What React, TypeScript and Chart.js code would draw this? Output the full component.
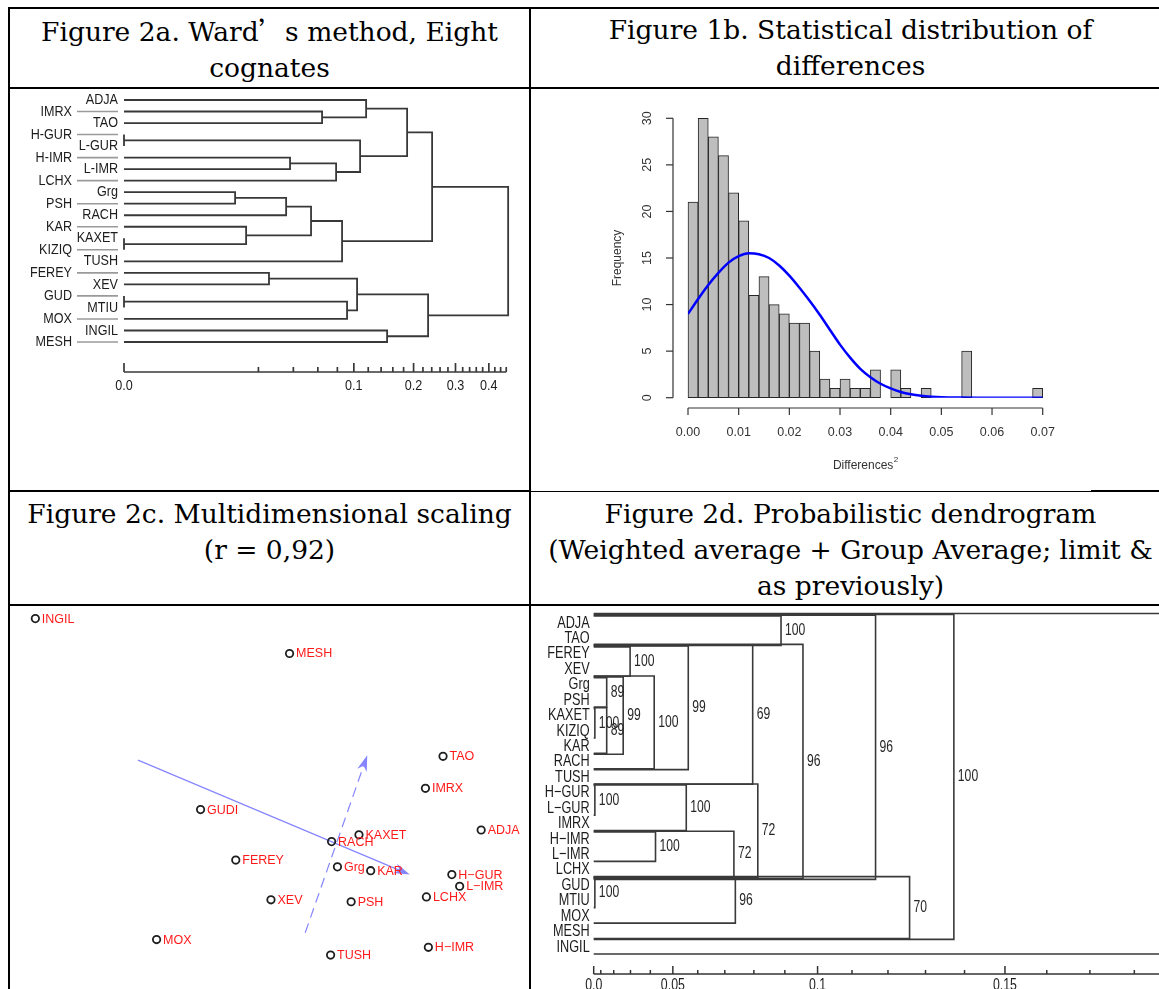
import React, { useEffect, useRef } from "react";
import { Chart, registerables, LinearScale } from "chart.js";

Chart.register(...registerables);

// ---------------- custom power scales (R plots use transformed height axes) ----------------
class CubeRootScale extends LinearScale {
  static id = "cuberoot";
  static defaults = {};
  tf(v: number) { return Math.cbrt(v); }
  inv(t: number) { return t * t * t; }
  getPixelForValue(value: any) {
    if (value === null || value === undefined || Number.isNaN(value)) return NaN;
    const a = this.tf(this.min), b = this.tf(this.max);
    return this.getPixelForDecimal((this.tf(value) - a) / (b - a));
  }
  getValueForPixel(pixel: number) {
    const a = this.tf(this.min), b = this.tf(this.max);
    return this.inv(a + this.getDecimalForPixel(pixel) * (b - a));
  }
}
class Pow15Scale extends LinearScale {
  static id = "pow15";
  static defaults = {};
  tf(v: number) { return Math.pow(Math.max(v, 0), 1.5); }
  inv(t: number) { return Math.pow(Math.max(t, 0), 2 / 3); }
  getPixelForValue(value: any) {
    if (value === null || value === undefined || Number.isNaN(value)) return NaN;
    const a = this.tf(this.min), b = this.tf(this.max);
    return this.getPixelForDecimal((this.tf(value) - a) / (b - a));
  }
  getValueForPixel(pixel: number) {
    const a = this.tf(this.min), b = this.tf(this.max);
    return this.inv(a + this.getDecimalForPixel(pixel) * (b - a));
  }
}
Chart.register(CubeRootScale as any, Pow15Scale as any);

// ---------------- Figure 2a: Ward's method ----------------
const wardLeaves = ["ADJA", "IMRX", "TAO", "H-GUR", "L-GUR", "H-IMR", "L-IMR", "LCHX", "Grg", "PSH", "RACH", "KAR", "KAXET", "KIZIQ", "TUSH", "FEREY", "XEV", "GUD", "MTIU", "MOX", "INGIL", "MESH"];
const wardMergeA = ["H-GUR", "KAXET", "GUD", "Grg", "KAR", "FEREY", "m3", "H-IMR", "m6", "IMRX", "m7", "m8", "m2", "m5", "m0", "ADJA", "INGIL", "m15", "m13", "m17", "m19"];
const wardMergeB = ["L-GUR", "KIZIQ", "MTIU", "PSH", "m1", "XEV", "RACH", "L-IMR", "m4", "TAO", "LCHX", "TUSH", "MOX", "m12", "m10", "m9", "MESH", "m14", "m16", "m11", "m18"];
const wardHeights = [0, 0, 0, 0.0113, 0.015, 0.0251, 0.0351, 0.0377, 0.0539, 0.064, 0.0786, 0.0854, 0.0914, 0.1043, 0.1084, 0.1169, 0.15, 0.1869, 0.2316, 0.2409, 0.4669];
const wardAxisTicks = [0, 0.02, 0.04, 0.06, 0.08, 0.1, 0.12, 0.14, 0.16, 0.18, 0.2, 0.22, 0.24, 0.26, 0.28, 0.3, 0.32, 0.34, 0.36, 0.38, 0.4, 0.42, 0.44, 0.46];
const wardAxisLabelValues = [0, 0.1, 0.2, 0.3, 0.4];
const wardAxisLabels = ["0.0", "0.1", "0.2", "0.3", "0.4"];

// ---------------- Figure 1b: histogram ----------------
const histBinWidth = 0.002;
const histCounts = [21, 30, 28, 26, 22, 19, 11, 13, 10, 9, 8, 8, 5, 2, 1, 2, 1, 1, 3, 0, 3, 1, 0, 1, 0, 0, 0, 5, 0, 0, 0, 0, 0, 0, 1];
const histCurveX = [0, 0.002, 0.004, 0.006, 0.008, 0.01, 0.012, 0.014, 0.016, 0.018, 0.02, 0.022, 0.024, 0.026, 0.028, 0.03, 0.032, 0.034, 0.036, 0.038, 0.04, 0.042, 0.044, 0.046, 0.048, 0.05, 0.054, 0.058, 0.064, 0.07];
const histCurveY = [9.0, 10.6, 12.1, 13.4, 14.5, 15.2, 15.5, 15.4, 15.0, 14.2, 13.1, 11.8, 10.4, 8.9, 7.3, 5.7, 4.3, 3.1, 2.2, 1.5, 1.0, 0.62, 0.37, 0.21, 0.11, 0.05, 0.012, 0.003, 0, 0];
const histXTicks = [0, 0.01, 0.02, 0.03, 0.04, 0.05, 0.06, 0.07];
const histXTickLabels = ["0.00", "0.01", "0.02", "0.03", "0.04", "0.05", "0.06", "0.07"];
const histYTicks = [0, 5, 10, 15, 20, 25, 30];
const histYTickLabels = ["0", "5", "10", "15", "20", "25", "30"];

// ---------------- Figure 2c: multidimensional scaling ----------------
const mdsNames = ["INGIL", "MESH", "TAO", "IMRX", "GUDI", "ADJA", "KAXET", "RACH", "FEREY", "Grg", "KAR", "H\u2212GUR", "L\u2212IMR", "LCHX", "XEV", "PSH", "MOX", "H\u2212IMR", "TUSH"];
const mdsDim1 = [-0.24, 0.02, 0.177, 0.159, -0.071, 0.216, 0.091, 0.063, -0.035, 0.069, 0.103, 0.186, 0.194, 0.16, 0.001, 0.083, -0.116, 0.162, 0.062];
const mdsDim2 = [0.187, 0.151, 0.045, 0.012, -0.01, -0.031, -0.036, -0.043, -0.062, -0.069, -0.073, -0.077, -0.089, -0.1, -0.103, -0.105, -0.144, -0.152, -0.16];
const arrowX0 = [-0.135, 0.036];
const arrowY0 = [0.041, -0.137];
const arrowX1 = [0.143, 0.0995];
const arrowY1 = [-0.077, 0.046];
const arrowDashed = [false, true];

// ---------------- Figure 2d: probabilistic dendrogram ----------------
const probLeaves = ["ADJA", "TAO", "FEREY", "XEV", "Grg", "PSH", "KAXET", "KIZIQ", "KAR", "RACH", "TUSH", "H\u2212GUR", "L\u2212GUR", "IMRX", "H\u2212IMR", "L\u2212IMR", "LCHX", "GUD", "MTIU", "MOX", "MESH", "INGIL"];
const probMergeA = ["KAXET", "H\u2212GUR", "GUD", "Grg", "m0", "m3", "FEREY", "m5", "H\u2212IMR", "m1", "m6", "m8", "m2", "m10", "m9", "ADJA", "m13", "m15", "m12", "m17", "m19"];
const probMergeB = ["KIZIQ", "L\u2212GUR", "MTIU", "PSH", "KAR", "m4", "XEV", "RACH", "L\u2212IMR", "IMRX", "m7", "LCHX", "MOX", "TUSH", "m11", "TAO", "m14", "m16", "MESH", "m18", "INGIL"];
const probHeights = [0.003, 0.003, 0.003, 0.015, 0.015, 0.0259, 0.0298, 0.0418, 0.0424, 0.0555, 0.0563, 0.0732, 0.0737, 0.0796, 0.0813, 0.0888, 0.0956, 0.1166, 0.1258, 0.1373, 0.2];
const probSupport = ["100", "100", "100", "89", "89", "99", "100", "100", "100", "100", "99", "72", "96", "69", "72", "100", "96", "96", "70", "100", "100"];
const probAxisTicks = [0, 0.01, 0.02, 0.03, 0.04, 0.05, 0.06, 0.07, 0.08, 0.09, 0.1, 0.11, 0.12, 0.13, 0.14, 0.15, 0.16, 0.17, 0.18];
const probAxisLabelValues = [0, 0.05, 0.1, 0.15];
const probAxisLabels = ["0.0", "0.05", "0.1", "0.15"];

// ---------------- helpers ----------------
type TNode = { h: number; y: number; first: number; last: number; leaf: boolean; a?: TNode; b?: TNode; dt: number; db: number; k: number };

function buildNodes(leaves: string[], A: string[], B: string[], H: number[]): TNode[] {
  const nodes: TNode[] = [];
  const ref = (r: string): TNode => {
    const i = leaves.indexOf(r);
    if (i >= 0) return { h: 0, y: i, first: i, last: i, leaf: true, dt: 0, db: 0, k: -1 };
    return nodes[parseInt(r.slice(1), 10)];
  };
  H.forEach((h, k) => {
    const a = ref(A[k]);
    const b = ref(B[k]);
    const first = Math.min(a.first, b.first);
    const last = Math.max(a.last, b.last);
    const tc = [a, b].find((c) => !c.leaf && c.first === first);
    const bc = [a, b].find((c) => !c.leaf && c.last === last);
    nodes.push({ h, y: (a.y + b.y) / 2, first, last, leaf: false, a, b, dt: tc ? tc.dt + 1 : 0, db: bc ? bc.db + 1 : 0, k });
  });
  return nodes;
}

const SANS = "'Liberation Sans', Arimo, Arial, sans-serif";

function narrowText(ctx: CanvasRenderingContext2D, text: string, x: number, y: number, align: CanvasTextAlign, size = 14.5, color = "#1c1c1c", sx = 0.86) {
  ctx.save();
  ctx.translate(x, y);
  ctx.scale(sx, 1);
  ctx.font = `${size}px ${SANS}`;
  ctx.fillStyle = color;
  ctx.textAlign = align;
  ctx.textBaseline = "middle";
  ctx.fillText(text, 0, 0);
  ctx.restore();
}

function seg(ctx: CanvasRenderingContext2D, x1: number, y1: number, x2: number, y2: number) {
  ctx.beginPath();
  ctx.moveTo(x1, y1);
  ctx.lineTo(x2, y2);
  ctx.stroke();
}

const baseOptions = (padding: any) => ({
  animation: false as const,
  responsive: false,
  events: [] as any[],
  layout: { padding },
  plugins: { legend: { display: false }, tooltip: { enabled: false } },
});

// ---------------- chart factories ----------------
function makeWard(canvas: HTMLCanvasElement) {
  const nodes = buildNodes(wardLeaves, wardMergeA, wardMergeB, wardHeights);
  const datasets = nodes.map((n) => ({
    data: [
      { x: n.a!.h, y: n.a!.y },
      { x: n.h, y: n.a!.y },
      { x: n.h, y: n.b!.y },
      { x: n.b!.h, y: n.b!.y },
    ],
    showLine: true,
    borderColor: "#383838",
    borderWidth: 1.8,
    pointRadius: 0,
    tension: 0,
    clip: false as const,
    borderJoinStyle: "miter" as const,
  }));
  const deco = {
    id: "wardDeco",
    afterDraw(chart: any) {
      const { ctx, scales } = chart;
      const xs = scales.x, ys = scales.y;
      const x0 = xs.getPixelForValue(0);
      ctx.save();
      wardLeaves.forEach((name, i) => {
        const py = ys.getPixelForValue(i);
        if (i % 2 === 1) {
          ctx.strokeStyle = "#9a9a9a";
          ctx.lineWidth = 1.6;
          seg(ctx, x0 - 47, py, x0 - 6, py);
          narrowText(ctx, name, x0 - 52, py, "right", 15, "#1c1c1c", 0.84);
        } else {
          narrowText(ctx, name, x0 - 6, py, "right", 15, "#1c1c1c", 0.84);
        }
      });
      const ay = chart.chartArea.bottom + 30;
      ctx.strokeStyle = "#383838";
      ctx.lineWidth = 1.7;
      seg(ctx, x0, ay, xs.getPixelForValue(wardAxisTicks[wardAxisTicks.length - 1]), ay);
      wardAxisTicks.forEach((t) => {
        const px = xs.getPixelForValue(t);
        const major = wardAxisLabelValues.some((v) => Math.abs(v - t) < 1e-9);
        seg(ctx, px, ay, px, ay - (major ? 9 : 5));
      });
      wardAxisLabelValues.forEach((v, i) => {
        narrowText(ctx, wardAxisLabels[i], xs.getPixelForValue(v), ay + 14, "center", 15, "#1c1c1c", 0.84);
      });
      ctx.restore();
    },
  };
  return new Chart(canvas, {
    type: "scatter",
    data: { datasets },
    options: {
      ...baseOptions({ left: 114, right: 20, top: 11, bottom: 148 }),
      scales: {
        x: { type: "cuberoot" as any, min: 0, max: 0.47, display: false },
        y: { type: "linear", min: 0, max: 21, reverse: true, display: false },
      },
    } as any,
    plugins: [deco],
  });
}

function makeHist(canvas: HTMLCanvasElement) {
  const bars = histCounts.map((c, i) => ({ x: (i + 0.5) * histBinWidth, y: c }));
  const curve = histCurveX.map((x, i) => ({ x, y: histCurveY[i] }));
  const deco = {
    id: "histDeco",
    afterDraw(chart: any) {
      const { ctx, scales, chartArea } = chart;
      const xs = scales.x, ys = scales.y;
      ctx.save();
      ctx.strokeStyle = "#333";
      ctx.fillStyle = "#333";
      ctx.lineWidth = 1.2;
      const axY = chartArea.bottom + 10.3;
      seg(ctx, xs.getPixelForValue(histXTicks[0]), axY, xs.getPixelForValue(histXTicks[histXTicks.length - 1]), axY);
      ctx.font = `12.5px ${SANS}`;
      ctx.textAlign = "center";
      ctx.textBaseline = "middle";
      histXTicks.forEach((t, i) => {
        const px = xs.getPixelForValue(t);
        seg(ctx, px, axY, px, axY + 7);
        ctx.fillText(histXTickLabels[i], px, axY + 25);
      });
      const axX = chartArea.left - 15;
      seg(ctx, axX, ys.getPixelForValue(histYTicks[0]), axX, ys.getPixelForValue(histYTicks[histYTicks.length - 1]));
      histYTicks.forEach((t, i) => {
        const py = ys.getPixelForValue(t);
        seg(ctx, axX, py, axX - 7, py);
        ctx.save();
        ctx.translate(axX - 25, py);
        ctx.rotate(-Math.PI / 2);
        ctx.fillText(histYTickLabels[i], 0, 0);
        ctx.restore();
      });
      ctx.save();
      ctx.translate(chartArea.left - 70, (chartArea.top + chartArea.bottom) / 2);
      ctx.rotate(-Math.PI / 2);
      ctx.font = `12px ${SANS}`;
      ctx.fillText("Frequency", 0, 0);
      ctx.restore();
      ctx.font = `12px ${SANS}`;
      const main = "Differences";
      const w1 = ctx.measureText(main).width;
      ctx.font = `8px ${SANS}`;
      const w2 = ctx.measureText("2").width;
      const cx = (chartArea.left + chartArea.right) / 2;
      const sx = cx - (w1 + w2) / 2;
      ctx.textAlign = "left";
      ctx.font = `12px ${SANS}`;
      ctx.fillText(main, sx, chartArea.bottom + 68);
      ctx.font = `8px ${SANS}`;
      ctx.fillText("2", sx + w1 + 0.5, chartArea.bottom + 62);
      ctx.restore();
    },
  };
  return new Chart(canvas, {
    type: "bar",
    data: {
      datasets: [
        {
          type: "line",
          data: curve,
          borderColor: "#0000ff",
          borderWidth: 2.5,
          pointRadius: 0,
          cubicInterpolationMode: "monotone",
          fill: false,
          order: 0,
        } as any,
        {
          type: "bar",
          data: bars,
          backgroundColor: "#bebebe",
          borderColor: "#262626",
          borderWidth: 1,
          borderSkipped: false,
          barPercentage: 1,
          categoryPercentage: 1,
          clip: false,
          order: 1,
        } as any,
      ],
    },
    options: {
      ...baseOptions({ left: 157, right: 127.3, top: 29.3, bottom: 92.3 }),
      scales: {
        x: { type: "linear", min: 0, max: 0.07, offset: false, display: false },
        y: { type: "linear", min: 0, max: 30, display: false },
      },
    } as any,
    plugins: [deco],
  });
}

function makeMds(canvas: HTMLCanvasElement) {
  const pts = mdsDim1.map((x, i) => ({ x, y: mdsDim2[i] }));
  const deco = {
    id: "mdsDeco",
    beforeDatasetsDraw(chart: any) {
      const { ctx, scales } = chart;
      const xs = scales.x, ys = scales.y;
      ctx.save();
      arrowX0.forEach((_, i) => {
        const x1 = xs.getPixelForValue(arrowX0[i]);
        const y1 = ys.getPixelForValue(arrowY0[i]);
        const x2 = xs.getPixelForValue(arrowX1[i]);
        const y2 = ys.getPixelForValue(arrowY1[i]);
        const ang = Math.atan2(y2 - y1, x2 - x1);
        const L = 16, W = 5, N = 11;
        ctx.strokeStyle = "#8585ff";
        ctx.fillStyle = "#8585ff";
        ctx.lineWidth = 1.2;
        ctx.setLineDash(arrowDashed[i] ? [10, 6] : []);
        seg(ctx, x1, y1, x2 - Math.cos(ang) * N, y2 - Math.sin(ang) * N);
        ctx.setLineDash([]);
        const bx = x2 - Math.cos(ang) * L, by = y2 - Math.sin(ang) * L;
        const nx = -Math.sin(ang), ny = Math.cos(ang);
        ctx.beginPath();
        ctx.moveTo(x2, y2);
        ctx.lineTo(bx + nx * W, by + ny * W);
        ctx.lineTo(x2 - Math.cos(ang) * N, y2 - Math.sin(ang) * N);
        ctx.lineTo(bx - nx * W, by - ny * W);
        ctx.closePath();
        ctx.fill();
      });
      ctx.restore();
    },
    afterDatasetsDraw(chart: any) {
      const { ctx, scales } = chart;
      const xs = scales.x, ys = scales.y;
      ctx.save();
      ctx.font = `12.5px ${SANS}`;
      ctx.fillStyle = "#ff1a1a";
      ctx.textAlign = "left";
      ctx.textBaseline = "middle";
      mdsNames.forEach((n, i) => {
        ctx.fillText(n, xs.getPixelForValue(mdsDim1[i]) + 6.5, ys.getPixelForValue(mdsDim2[i]) + 0.5);
      });
      ctx.restore();
    },
  };
  return new Chart(canvas, {
    type: "scatter",
    data: {
      datasets: [
        {
          data: pts,
          pointRadius: 3.7,
          borderWidth: 1.8,
          borderColor: "#1e1e1e",
          backgroundColor: "rgba(255,255,255,0)",
          clip: false,
        } as any,
      ],
    },
    options: {
      ...baseOptions(0),
      scales: {
        x: { type: "linear", min: -0.26, max: 0.259, display: false },
        y: { type: "linear", min: -0.189, max: 0.194, display: false },
      },
    } as any,
    plugins: [deco],
  });
}

function makeProb(canvas: HTMLCanvasElement) {
  const nodes = buildNodes(probLeaves, probMergeA, probMergeB, probHeights);
  const band = 0.45, step = 0.055;
  const boxes = nodes.map((n) => ({
    top: n.first - band - n.dt * step,
    bottom: n.last + band + n.db * step,
    h: n.h,
  }));
  const datasets = boxes.map((b) => ({
    data: [
      { x: 0, y: b.top },
      { x: b.h, y: b.top },
      { x: b.h, y: b.bottom },
      { x: 0, y: b.bottom },
    ],
    showLine: true,
    borderColor: "#3a3a3a",
    borderWidth: 1.6,
    pointRadius: 0,
    tension: 0,
    clip: false as const,
    borderJoinStyle: "miter" as const,
  }));
  const deco = {
    id: "probDeco",
    afterDraw(chart: any) {
      const { ctx, scales, chartArea } = chart;
      const xs = scales.x, ys = scales.y;
      const x0 = xs.getPixelForValue(0);
      ctx.save();
      probLeaves.forEach((name, i) => {
        narrowText(ctx, name, x0 - 4, ys.getPixelForValue(i), "right", 16.5, "#1c1c1c", 0.77);
      });
      boxes.forEach((b, k) => {
        narrowText(ctx, probSupport[k], xs.getPixelForValue(b.h) + 4, ys.getPixelForValue((b.top + b.bottom) / 2), "left", 16, "#262626", 0.76);
      });
      const ay = chartArea.bottom + 27;
      ctx.strokeStyle = "#333";
      ctx.lineWidth = 1.5;
      seg(ctx, x0, ay, chartArea.right, ay);
      probAxisTicks.forEach((t) => {
        const px = xs.getPixelForValue(t);
        const major = probAxisLabelValues.some((v) => Math.abs(v - t) < 1e-9);
        seg(ctx, px, ay, px, ay - (major ? 8 : 4));
      });
      probAxisLabelValues.forEach((v, i) => {
        narrowText(ctx, probAxisLabels[i], xs.getPixelForValue(v), ay + 12, "center", 16, "#1c1c1c", 0.77);
      });
      ctx.restore();
    },
  };
  return new Chart(canvas, {
    type: "scatter",
    data: { datasets },
    options: {
      ...baseOptions({ left: 62.7, right: 0, top: 17, bottom: 42 }),
      scales: {
        x: { type: "pow15" as any, min: 0, max: 0.19, display: false },
        y: { type: "linear", min: 0, max: 21, reverse: true, display: false },
      },
    } as any,
    plugins: [deco],
  });
}

// ---------------- React ----------------
function ChartBox(props: { left: number; top: number; width: number; height: number; make: (c: HTMLCanvasElement) => Chart }) {
  const ref = useRef<HTMLCanvasElement>(null);
  useEffect(() => {
    if (!ref.current) return;
    const chart = props.make(ref.current);
    return () => chart.destroy();
  }, []);
  return (
    <canvas
      ref={ref}
      width={props.width}
      height={props.height}
      style={{ position: "absolute", left: props.left, top: props.top, width: props.width, height: props.height }}
    />
  );
}

const headFont: React.CSSProperties = {
  position: "absolute",
  textAlign: "center",
  fontFamily: "'DejaVu Serif', serif",
  fontSize: "26.5px",
  lineHeight: "36px",
  whiteSpace: "nowrap",
  color: "#000",
};

function Line(p: { l: number; t: number; w: number; h: number }) {
  return <div style={{ position: "absolute", left: p.l, top: p.t, width: p.w, height: p.h, background: "#000" }} />;
}

export default function App() {
  return (
    <div style={{ position: "fixed", left: 0, top: 0, width: 1159, height: 989, overflow: "hidden", background: "#fff" }}>
      <div style={{ ...headFont, left: 8, width: 1162, top: -29, lineHeight: "30px" }}>
        Figure 2. Missing to belonging observations: a sample from the only database
      </div>
      {/* table borders */}
      <Line l={8} t={7} w={1170} h={2} />
      <Line l={8} t={7} w={2} h={990} />
      <Line l={529} t={7} w={2} h={990} />
      <Line l={8} t={87} w={1170} h={2} />
      <Line l={8} t={490} w={523} h={2} />
      <Line l={531} t={491} w={560} h={1} />
      <Line l={1091} t={490} w={90} h={2} />
      <Line l={8} t={604} w={1170} h={2} />

      {/* headers */}
      <div style={{ ...headFont, left: 10, width: 519, top: 12 }}>
        Figure 2a. Ward<span style={{ fontFamily: "'Noto Sans CJK SC'" }}>{"\u2019"}</span>s method, Eight
        <br />
        cognates
      </div>
      <div style={{ ...headFont, left: 531, width: 639, top: 12 }}>
        Figure 1b. Statistical distribution of
        <br />
        differences
      </div>
      <div style={{ ...headFont, left: 10, width: 519, top: 496 }}>
        Figure 2c. Multidimensional scaling
        <br />
        (r = 0,92)
      </div>
      <div style={{ ...headFont, left: 531, width: 639, top: 496 }}>
        Figure 2d. Probabilistic dendrogram
        <br />
        (Weighted average + Group Average; limit &amp;
        <br />
        as previously)
      </div>

      <ChartBox left={10} top={89} width={519} height={401} make={makeWard} />
      <ChartBox left={531} top={89} width={639} height={401} make={makeHist} />
      <ChartBox left={10} top={606} width={519} height={383} make={makeMds} />
      <ChartBox left={531} top={606} width={649} height={383} make={makeProb} />
    </div>
  );
}
